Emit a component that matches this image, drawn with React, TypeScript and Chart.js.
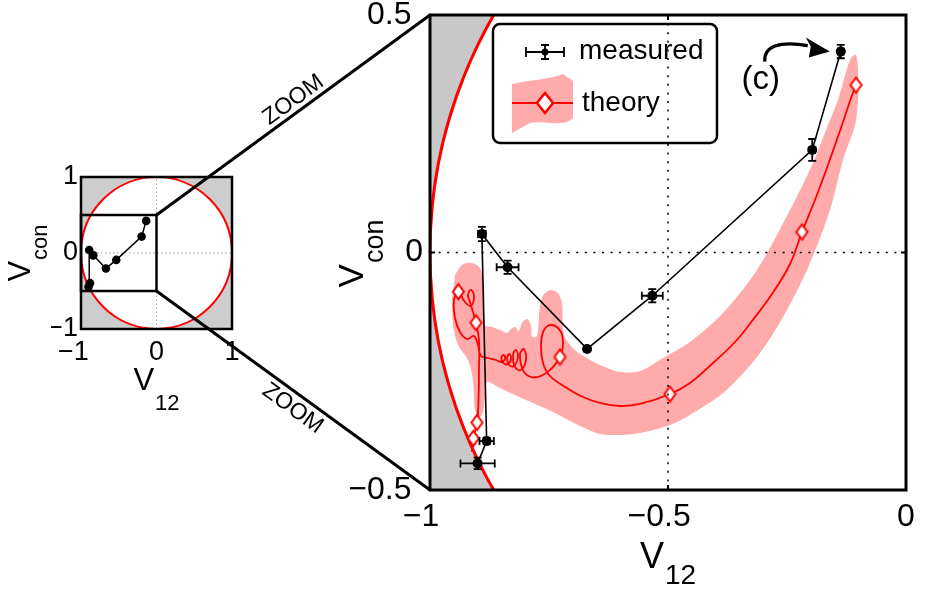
import React, { useEffect, useRef } from 'react';
import { Chart, registerables } from 'chart.js';

Chart.register(...registerables);

const FONT = "'Liberation Sans', Arial, Helvetica, sans-serif";

// ---- tick values ----
const MAIN_X_TICKS = [-1, -0.5, 0];
const MAIN_Y_TICKS = [-0.5, 0, 0.5];
const INSET_X_TICKS = [-1, 0, 1];
const INSET_Y_TICKS = [-1, 0, 1];

// ---- measured data (with error bars) ----
const MEAS_X = [-0.9, -0.881, -0.891, -0.837, -0.67, -0.533, -0.197, -0.137];
const MEAS_Y = [-0.444, -0.397, 0.039, -0.031, -0.203, -0.091, 0.216, 0.423];
const MEAS_XERR = [0.036, 0.015, 0.008, 0.023, 0.004, 0.022, 0.005, 0.006];
const MEAS_YERR = [0.012, 0.007, 0.015, 0.014, 0.004, 0.014, 0.023, 0.014];

// ---- theory trajectory ----
const THEORY_X = [
  -0.9118, -0.909, -0.9013, -0.8981, -0.8971, -0.8971, -0.9034, -0.9097, -0.916, -0.9202,
  -0.9139, -0.9076, -0.9139, -0.9265, -0.9405, -0.9496, -0.9475, -0.937, -0.9223, -0.9076,
  -0.8992, -0.8929, -0.8782, -0.8613, -0.8508, -0.8424, -0.8445, -0.8498, -0.8466, -0.8361,
  -0.8298, -0.833, -0.8382, -0.834, -0.8235, -0.8151, -0.8193, -0.8256, -0.8214, -0.8088,
  -0.7983, -0.8025, -0.8109, -0.8046, -0.7878, -0.7668, -0.7458, -0.7332, -0.7269, -0.7206,
  -0.7248, -0.7437, -0.7605, -0.7668, -0.7626, -0.7479, -0.7122, -0.6786, -0.6429, -0.6008,
  -0.5588, -0.4958, -0.4538, -0.4055, -0.3592, -0.3235, -0.2815, -0.2437, -0.2185, -0.1912,
  -0.1639, -0.1345, -0.1155, -0.105,
];
const THEORY_Y = [
  -0.42, -0.3912, -0.3579, -0.3105, -0.2474, -0.1842, -0.1478, -0.1253, -0.1042, -0.0895,
  -0.0789, -0.0916, -0.1126, -0.1042, -0.0825, -0.1, -0.1379, -0.1674, -0.1821, -0.1758,
  -0.1947, -0.2179, -0.2221, -0.2263, -0.2305, -0.2242, -0.2158, -0.22, -0.2326, -0.2347,
  -0.2242, -0.2137, -0.2221, -0.2368, -0.2389, -0.22, -0.2053, -0.2158, -0.2411, -0.2474,
  -0.2263, -0.2032, -0.2137, -0.2474, -0.2621, -0.26, -0.2453, -0.2305, -0.22, -0.1947,
  -0.1674, -0.1526, -0.1632, -0.1947, -0.2326, -0.26, -0.2853, -0.3042, -0.3168, -0.3232,
  -0.3189, -0.2979, -0.2747, -0.2326, -0.1884, -0.1442, -0.0874, -0.0242, 0.0432, 0.1105,
  0.1842, 0.2684, 0.3253, 0.3526,
];

// ---- theory diamond markers ----
const MARKER_X = [-0.909, -0.9013, -0.9034, -0.9405, -0.7269, -0.4958, -0.2185, -0.105];
const MARKER_Y = [-0.3912, -0.3579, -0.1478, -0.0825, -0.22, -0.2979, 0.0432, 0.3526];

// ---- theory uncertainty band (closed outline) ----
const BAND_X = [
  -0.9475, -0.9328, -0.9118, -0.895, -0.8866, -0.8845, -0.8697, -0.8529, -0.8382, -0.8298,
  -0.8214, -0.813, -0.8067, -0.7962, -0.7878, -0.7857, -0.7752, -0.7689, -0.7605, -0.7458,
  -0.7311, -0.7227, -0.7185, -0.6954, -0.6639, -0.6324, -0.6008, -0.5588, -0.5105, -0.4538,
  -0.3845, -0.313, -0.2437, -0.1954, -0.1639, -0.1429, -0.1261, -0.1155, -0.105, -0.1008,
  -0.1008, -0.1071, -0.1324, -0.1597, -0.208, -0.2584, -0.313, -0.3845, -0.4538, -0.4958,
  -0.5588, -0.6008, -0.6429, -0.6849, -0.7416, -0.7836, -0.8172, -0.8529, -0.8803, -0.8845,
  -0.8887, -0.8971, -0.9055, -0.9097, -0.9202, -0.9412, -0.9517, -0.9538,
];
const BAND_Y = [
  -0.0474, -0.0263, -0.0221, -0.0326, -0.0684, -0.1526, -0.1568, -0.1632, -0.1695, -0.1611,
  -0.1568, -0.1653, -0.1484, -0.14, -0.1526, -0.1779, -0.1758, -0.1105, -0.0874, -0.0789,
  -0.0853, -0.1063, -0.1737, -0.2053, -0.2263, -0.2411, -0.2516, -0.2495, -0.2221, -0.1884,
  -0.1274, -0.0368, 0.0895, 0.1884, 0.2684, 0.3211, 0.38, 0.4095, 0.4158, 0.3842,
  0.3211, 0.2684, 0.1947, 0.0895, -0.0368, -0.1358, -0.22, -0.2958, -0.3421, -0.3632,
  -0.38, -0.3842, -0.3821, -0.3653, -0.3358, -0.3168, -0.3021, -0.2853, -0.2726, -0.3063,
  -0.3358, -0.3484, -0.3316, -0.2684, -0.2263, -0.1947, -0.1526, -0.1,
];

const UNIT_RADIUS = 1;
const LEGEND_LABELS = ['measured', 'theory'];
const AXIS_MAIN = 'V';
const X_SUB = '12';
const Y_SUB = 'con';
const ZOOM_LABEL = 'ZOOM';
const ANNOTATION = '(c)';

const RED = '#ff0000';
const PINK = '#ffabab';
const GRAY = '#c8c8c8';

const MINUS = '\u2212';
// x labels: numeric part centred on tick, minus hangs left (trailing figure space balances it)
const fmtX = (v: number) => (v === 0 ? '0' : v < 0 ? MINUS + String(Math.abs(v)) + '\u2007' : String(v));
// y labels
const fmtYMain = (v: number) => (v === 0 ? '0' : (v < 0 ? MINUS : '') + String(Math.abs(v)) + '\u2008\u200A');
const fmtY = (v: number) => (v === 0 ? '0' : (v < 0 ? MINUS : '') + String(Math.abs(v)));
const toXY = (xs: number[], ys: number[]) => xs.map((x, i) => ({ x, y: ys[i] }));

function makeDiamond(w: number, h: number, lw: number) {
  const c = document.createElement('canvas');
  c.width = Math.ceil(w + lw * 2);
  c.height = Math.ceil(h + lw * 2);
  const g = c.getContext('2d') as CanvasRenderingContext2D;
  const cx = c.width / 2;
  const cy = c.height / 2;
  g.beginPath();
  g.moveTo(cx, cy - h / 2);
  g.lineTo(cx + w / 2, cy);
  g.lineTo(cx, cy + h / 2);
  g.lineTo(cx - w / 2, cy);
  g.closePath();
  g.fillStyle = '#ffffff';
  g.fill();
  g.strokeStyle = RED;
  g.lineWidth = lw;
  g.stroke();
  return c;
}

function axis(min: number, max: number, ticks: number[], size: number, fontSize: number, pad: number, horizontal: boolean, fmt: (v: number) => string) {
  return {
    type: 'linear',
    min,
    max,
    grid: { display: false, drawTicks: false },
    border: { display: false },
    afterBuildTicks: (s: any) => {
      s.ticks = ticks.map((v) => ({ value: v }));
    },
    afterFit: (s: any) => {
      if (horizontal) s.height = size;
      else s.width = size;
      s.paddingLeft = 0;
      s.paddingRight = 0;
      s.paddingTop = 0;
      s.paddingBottom = 0;
    },
    ticks: {
      color: '#000',
      autoSkip: false,
      maxRotation: 0,
      minRotation: 0,
      padding: pad,
      font: { family: FONT, size: fontSize, lineHeight: 1 },
      callback: (v: any) => fmt(Number(v)),
    },
  };
}

function paintOutsideCircle(chart: any, gray: string) {
  const { ctx, chartArea: a, scales } = chart;
  const xs = scales.x;
  const ys = scales.y;
  ctx.save();
  ctx.beginPath();
  ctx.rect(a.left, a.top, a.right - a.left, a.bottom - a.top);
  ctx.clip();
  ctx.fillStyle = gray;
  ctx.fillRect(a.left, a.top, a.right - a.left, a.bottom - a.top);
  const cx = xs.getPixelForValue(0);
  const cy = ys.getPixelForValue(0);
  const rx = xs.getPixelForValue(UNIT_RADIUS) - cx;
  const ry = cy - ys.getPixelForValue(UNIT_RADIUS);
  ctx.beginPath();
  ctx.ellipse(cx, cy, Math.abs(rx), Math.abs(ry), 0, 0, Math.PI * 2);
  ctx.fillStyle = '#ffffff';
  ctx.fill();
  ctx.restore();
}

function strokeCircle(chart: any, width: number) {
  const { ctx, chartArea: a, scales } = chart;
  const xs = scales.x;
  const ys = scales.y;
  ctx.save();
  ctx.beginPath();
  ctx.rect(a.left, a.top, a.right - a.left, a.bottom - a.top);
  ctx.clip();
  const cx = xs.getPixelForValue(0);
  const cy = ys.getPixelForValue(0);
  const rx = xs.getPixelForValue(UNIT_RADIUS) - cx;
  const ry = cy - ys.getPixelForValue(UNIT_RADIUS);
  ctx.beginPath();
  ctx.ellipse(cx, cy, Math.abs(rx), Math.abs(ry), 0, 0, Math.PI * 2);
  ctx.strokeStyle = RED;
  ctx.lineWidth = width;
  ctx.stroke();
  ctx.restore();
}

// draws "main" + subscript centred at (x, y) along its reading direction, baseline of main text at y
function drawSubTitle(ctx: any, x: number, y: number, rot: number, big: number, small: number, main: string, sub: string, subDrop: number) {
  ctx.save();
  ctx.translate(x, y);
  ctx.rotate(rot);
  ctx.fillStyle = '#000';
  ctx.textAlign = 'left';
  ctx.textBaseline = 'alphabetic';
  ctx.font = `${big}px ${FONT}`;
  const w = ctx.measureText(main).width;
  ctx.font = `${small}px ${FONT}`;
  const ws = ctx.measureText(sub).width;
  const start = -(w + 1 + ws) / 2;
  ctx.font = `${big}px ${FONT}`;
  ctx.fillText(main, start, 0);
  ctx.font = `${small}px ${FONT}`;
  ctx.fillText(sub, start + w + 1, subDrop);
  ctx.restore();
}

const mainDecor = {
  id: 'mainDecor',
  beforeDraw(chart: any) {
    paintOutsideCircle(chart, GRAY);
  },
  beforeDatasetsDraw(chart: any) {
    strokeCircle(chart, 3);
  },
  afterDatasetsDraw(chart: any) {
    const { ctx, chartArea: a, scales } = chart;
    const xs = scales.x;
    const ys = scales.y;
    ctx.save();
    // error bars
    ctx.strokeStyle = '#000';
    ctx.lineWidth = 1.8;
    MEAS_X.forEach((mx, i) => {
      const my = MEAS_Y[i];
      const px = xs.getPixelForValue(mx);
      const py = ys.getPixelForValue(my);
      const xl = xs.getPixelForValue(mx - MEAS_XERR[i]);
      const xr = xs.getPixelForValue(mx + MEAS_XERR[i]);
      const yt = ys.getPixelForValue(my + MEAS_YERR[i]);
      const yb = ys.getPixelForValue(my - MEAS_YERR[i]);
      ctx.beginPath();
      ctx.moveTo(xl, py);
      ctx.lineTo(xr, py);
      ctx.moveTo(xl, py - 4);
      ctx.lineTo(xl, py + 4);
      ctx.moveTo(xr, py - 4);
      ctx.lineTo(xr, py + 4);
      ctx.moveTo(px, yt);
      ctx.lineTo(px, yb);
      ctx.moveTo(px - 4, yt);
      ctx.lineTo(px + 4, yt);
      ctx.moveTo(px - 4, yb);
      ctx.lineTo(px + 4, yb);
      ctx.stroke();
    });
    // dotted grid (on top)
    ctx.setLineDash([2, 6.6]);
    ctx.lineWidth = 1.5;
    MAIN_X_TICKS.forEach((v) => {
      const p = xs.getPixelForValue(v);
      if (p > a.left + 2 && p < a.right - 2) {
        ctx.beginPath();
        ctx.moveTo(p, a.bottom);
        ctx.lineTo(p, a.top);
        ctx.stroke();
      }
    });
    MAIN_Y_TICKS.forEach((v) => {
      const p = ys.getPixelForValue(v);
      if (p > a.top + 2 && p < a.bottom - 2) {
        ctx.beginPath();
        ctx.moveTo(a.left, p);
        ctx.lineTo(a.right, p);
        ctx.stroke();
      }
    });
    ctx.setLineDash([]);
    // inward tick marks
    ctx.lineWidth = 2;
    MAIN_X_TICKS.forEach((v) => {
      const p = xs.getPixelForValue(v);
      ctx.beginPath();
      ctx.moveTo(p, a.bottom);
      ctx.lineTo(p, a.bottom - 5);
      ctx.moveTo(p, a.top);
      ctx.lineTo(p, a.top + 5);
      ctx.stroke();
    });
    MAIN_Y_TICKS.forEach((v) => {
      const p = ys.getPixelForValue(v);
      ctx.beginPath();
      ctx.moveTo(a.left, p);
      ctx.lineTo(a.left + 5, p);
      ctx.moveTo(a.right, p);
      ctx.lineTo(a.right - 5, p);
      ctx.stroke();
    });
    // box
    ctx.lineWidth = 3;
    ctx.strokeRect(a.left, a.top, a.right - a.left, a.bottom - a.top);
    ctx.restore();
  },
  afterDraw(chart: any) {
    const { ctx, chartArea: a, scales } = chart;
    const xs = scales.x;
    const ys = scales.y;
    // axis titles
    drawSubTitle(ctx, (a.left + a.right) / 2, a.bottom + 78, 0, 36, 28, AXIS_MAIN, X_SUB, 16);
    drawSubTitle(ctx, a.left - 67, (a.top + a.bottom) / 2 + 1, -Math.PI / 2, 35, 27, AXIS_MAIN, Y_SUB, 20);

    // legend
    ctx.save();
    const lx = a.left + 63;
    const ly = a.top + 9;
    const lw = 224;
    const lh = 119;
    ctx.lineWidth = 2.5;
    ctx.strokeStyle = '#000';
    ctx.beginPath();
    ctx.roundRect(lx, ly, lw, lh, 7);
    ctx.stroke();
    // measured icon
    const iy = ly + 28;
    const ix = lx + 52;
    ctx.lineWidth = 1.8;
    ctx.beginPath();
    ctx.moveTo(ix - 19, iy);
    ctx.lineTo(ix + 19, iy);
    ctx.moveTo(ix - 19, iy - 5);
    ctx.lineTo(ix - 19, iy + 5);
    ctx.moveTo(ix + 19, iy - 5);
    ctx.lineTo(ix + 19, iy + 5);
    ctx.moveTo(ix, iy - 7);
    ctx.lineTo(ix, iy + 7);
    ctx.moveTo(ix - 4, iy - 7);
    ctx.lineTo(ix + 4, iy - 7);
    ctx.moveTo(ix - 4, iy + 7);
    ctx.lineTo(ix + 4, iy + 7);
    ctx.stroke();
    ctx.fillStyle = '#000';
    ctx.beginPath();
    ctx.arc(ix, iy, 3.5, 0, Math.PI * 2);
    ctx.fill();
    // theory icon
    const ty = ly + 79;
    ctx.fillStyle = PINK;
    ctx.beginPath();
    ctx.moveTo(lx + 19, ly + 60);
    ctx.bezierCurveTo(lx + 35, ly + 56, lx + 55, ly + 56, lx + 70, ly + 50);
    ctx.lineTo(lx + 80, ly + 57);
    ctx.lineTo(lx + 80, ly + 94);
    ctx.bezierCurveTo(lx + 70, ly + 104, lx + 50, ly + 96, lx + 37, ly + 99);
    ctx.lineTo(lx + 19, ly + 109);
    ctx.closePath();
    ctx.fill();
    ctx.strokeStyle = RED;
    ctx.lineWidth = 2;
    ctx.beginPath();
    ctx.moveTo(lx + 19, ty);
    ctx.lineTo(lx + 80, ty);
    ctx.stroke();
    ctx.fillStyle = '#fff';
    ctx.lineWidth = 2.5;
    ctx.beginPath();
    ctx.moveTo(ix, ty - 10);
    ctx.lineTo(ix + 8, ty);
    ctx.lineTo(ix, ty + 10);
    ctx.lineTo(ix - 8, ty);
    ctx.closePath();
    ctx.fill();
    ctx.stroke();
    // labels
    ctx.fillStyle = '#000';
    ctx.font = `28px ${FONT}`;
    ctx.textAlign = 'left';
    ctx.textBaseline = 'alphabetic';
    ctx.fillText(LEGEND_LABELS[0], lx + 86, ly + 35);
    ctx.fillText(LEGEND_LABELS[1], lx + 89, ly + 87);
    ctx.restore();

    // annotation pointing to last measured point
    const last = MEAS_X.length - 1;
    const px = xs.getPixelForValue(MEAS_X[last]);
    const py = ys.getPixelForValue(MEAS_Y[last]);
    ctx.save();
    ctx.fillStyle = '#000';
    ctx.font = `33px ${FONT}`;
    ctx.textAlign = 'center';
    ctx.textBaseline = 'middle';
    ctx.fillText(ANNOTATION, px - 80, py + 28);
    ctx.strokeStyle = '#000';
    ctx.lineWidth = 3.2;
    ctx.beginPath();
    ctx.moveTo(px - 76, py + 10);
    ctx.bezierCurveTo(px - 77, py - 5, px - 62, py - 11, px - 33, py - 6);
    ctx.stroke();
    ctx.beginPath();
    ctx.moveTo(px - 11, py);
    ctx.lineTo(px - 35, py - 14);
    ctx.lineTo(px - 30, py - 5);
    ctx.lineTo(px - 32, py + 6);
    ctx.closePath();
    ctx.fill();
    ctx.restore();
  },
};

function makeInsetDecor(mainChart: any) {
  return {
    id: 'insetDecor',
    beforeDraw(chart: any) {
      paintOutsideCircle(chart, '#cdcdcd');
    },
    beforeDatasetsDraw(chart: any) {
      const { ctx, chartArea: a, scales } = chart;
      const xs = scales.x;
      const ys = scales.y;
      ctx.save();
      ctx.strokeStyle = '#9a9a9a';
      ctx.lineWidth = 1;
      ctx.setLineDash([1.5, 2.5]);
      INSET_X_TICKS.forEach((v) => {
        const p = xs.getPixelForValue(v);
        if (p > a.left + 2 && p < a.right - 2) {
          ctx.beginPath();
          ctx.moveTo(p, a.bottom);
          ctx.lineTo(p, a.top);
          ctx.stroke();
        }
      });
      INSET_Y_TICKS.forEach((v) => {
        const p = ys.getPixelForValue(v);
        if (p > a.top + 2 && p < a.bottom - 2) {
          ctx.beginPath();
          ctx.moveTo(a.left, p);
          ctx.lineTo(a.right, p);
          ctx.stroke();
        }
      });
      ctx.restore();
      strokeCircle(chart, 2);
    },
    afterDatasetsDraw(chart: any) {
      const { ctx, chartArea: a, scales } = chart;
      const xs = scales.x;
      const ys = scales.y;
      const mx = mainChart.scales.x;
      const my = mainChart.scales.y;
      ctx.save();
      ctx.strokeStyle = '#000';
      ctx.lineWidth = 2.5;
      ctx.strokeRect(a.left, a.top, a.right - a.left, a.bottom - a.top);
      const zx0 = xs.getPixelForValue(mx.min);
      const zx1 = xs.getPixelForValue(mx.max);
      const zy0 = ys.getPixelForValue(my.max);
      const zy1 = ys.getPixelForValue(my.min);
      ctx.strokeRect(zx0, zy0, zx1 - zx0, zy1 - zy0);
      ctx.restore();
    },
    afterDraw(chart: any) {
      const { ctx, chartArea: a, scales } = chart;
      const xs = scales.x;
      const ys = scales.y;
      const ma = mainChart.chartArea;
      const mx = mainChart.scales.x;
      const my = mainChart.scales.y;
      drawSubTitle(ctx, (a.left + a.right) / 2, a.bottom + 61, 0, 31, 22, AXIS_MAIN, X_SUB, 20);
      drawSubTitle(ctx, a.left - 51, (a.top + a.bottom) / 2, -Math.PI / 2, 31, 22, AXIS_MAIN, Y_SUB, 17);

      const zx1 = xs.getPixelForValue(mx.max);
      const zyTop = ys.getPixelForValue(my.max);
      const zyBot = ys.getPixelForValue(my.min);
      ctx.save();
      ctx.strokeStyle = '#000';
      ctx.lineWidth = 3;
      ctx.beginPath();
      ctx.moveTo(zx1, zyTop);
      ctx.lineTo(ma.left, ma.top);
      ctx.moveTo(zx1, zyBot);
      ctx.lineTo(ma.left, ma.bottom);
      ctx.stroke();

      ctx.fillStyle = '#000';
      ctx.font = `23px ${FONT}`;
      ctx.textAlign = 'center';
      ctx.textBaseline = 'middle';
      const a1 = Math.atan2(ma.top - zyTop, ma.left - zx1);
      ctx.save();
      ctx.translate((zx1 + ma.left) / 2, (zyTop + ma.top) / 2);
      ctx.rotate(a1);
      ctx.fillText(ZOOM_LABEL, 9, -12);
      ctx.restore();
      const a2 = Math.atan2(ma.bottom - zyBot, ma.left - zx1);
      ctx.save();
      ctx.translate((zx1 + ma.left) / 2, (zyBot + ma.bottom) / 2);
      ctx.rotate(a2);
      ctx.fillText(ZOOM_LABEL, 10, 15);
      ctx.restore();
      ctx.restore();
    },
  };
}

export default function App() {
  const mainRef = useRef<HTMLCanvasElement | null>(null);
  const insetRef = useRef<HTMLCanvasElement | null>(null);

  useEffect(() => {
    if (!mainRef.current || !insetRef.current) return;
    Chart.defaults.font.family = FONT;
    Chart.defaults.color = '#000';
    const diamond = makeDiamond(11, 15, 2);

    const main = new Chart(mainRef.current, {
      type: 'line',
      data: {
        datasets: [
          {
            label: LEGEND_LABELS[0],
            data: toXY(MEAS_X, MEAS_Y),
            borderColor: '#000',
            borderWidth: 1.6,
            pointRadius: 5,
            pointBackgroundColor: '#000',
            pointBorderColor: '#000',
            pointBorderWidth: 0,
            tension: 0,
            order: 0,
          },
          {
            label: 'theory markers',
            data: toXY(MARKER_X, MARKER_Y),
            showLine: false,
            pointStyle: diamond,
            pointRadius: 8,
            order: 1,
          },
          {
            label: LEGEND_LABELS[1],
            data: toXY(THEORY_X, THEORY_Y),
            borderColor: RED,
            borderWidth: 1.8,
            pointRadius: 0,
            tension: 0.4,
            fill: false,
            order: 2,
          },
          {
            label: 'band',
            data: toXY(BAND_X, BAND_Y),
            borderWidth: 0,
            borderColor: 'rgba(0,0,0,0)',
            backgroundColor: PINK,
            fill: 'shape',
            pointRadius: 0,
            tension: 0.3,
            order: 3,
          },
        ],
      } as any,
      options: {
        responsive: false,
        animation: false,
        events: [],
        layout: { padding: { left: 350, right: 20, top: 15, bottom: 0 } },
        plugins: { legend: { display: false }, tooltip: { enabled: false } },
        scales: {
          x: axis(-1, 0, MAIN_X_TICKS, 99, 32, 11, true, fmtX),
          y: axis(-0.5, 0.5, MAIN_Y_TICKS, 80, 32, 7, false, fmtYMain),
        },
      } as any,
      plugins: [mainDecor],
    });

    const inset = new Chart(insetRef.current, {
      type: 'line',
      data: {
        datasets: [
          {
            label: LEGEND_LABELS[0],
            data: toXY(MEAS_X, MEAS_Y),
            borderColor: '#000',
            borderWidth: 1.5,
            pointRadius: 4.3,
            pointBackgroundColor: '#000',
            pointBorderColor: '#000',
            pointBorderWidth: 0,
            tension: 0,
          },
        ],
      } as any,
      options: {
        responsive: false,
        animation: false,
        events: [],
        layout: { padding: { left: 51, right: 694, top: 177, bottom: 200 } },
        plugins: { legend: { display: false }, tooltip: { enabled: false } },
        scales: {
          x: axis(-1, 1, INSET_X_TICKS, 60, 27, 10, true, fmtX),
          y: axis(-1, 1, INSET_Y_TICKS, 30, 27, 3, false, fmtY),
        },
      } as any,
      plugins: [makeInsetDecor(main)],
    });

    return () => {
      inset.destroy();
      main.destroy();
    };
  }, []);

  const canvasStyle: React.CSSProperties = { position: 'absolute', left: 0, top: 0, width: 926, height: 589 };
  return (
    <div style={{ position: 'fixed', left: 0, top: 0, width: 926, height: 589, background: '#fff' }}>
      <canvas ref={mainRef} width={926} height={589} style={canvasStyle} />
      <canvas ref={insetRef} width={926} height={589} style={canvasStyle} />
    </div>
  );
}
